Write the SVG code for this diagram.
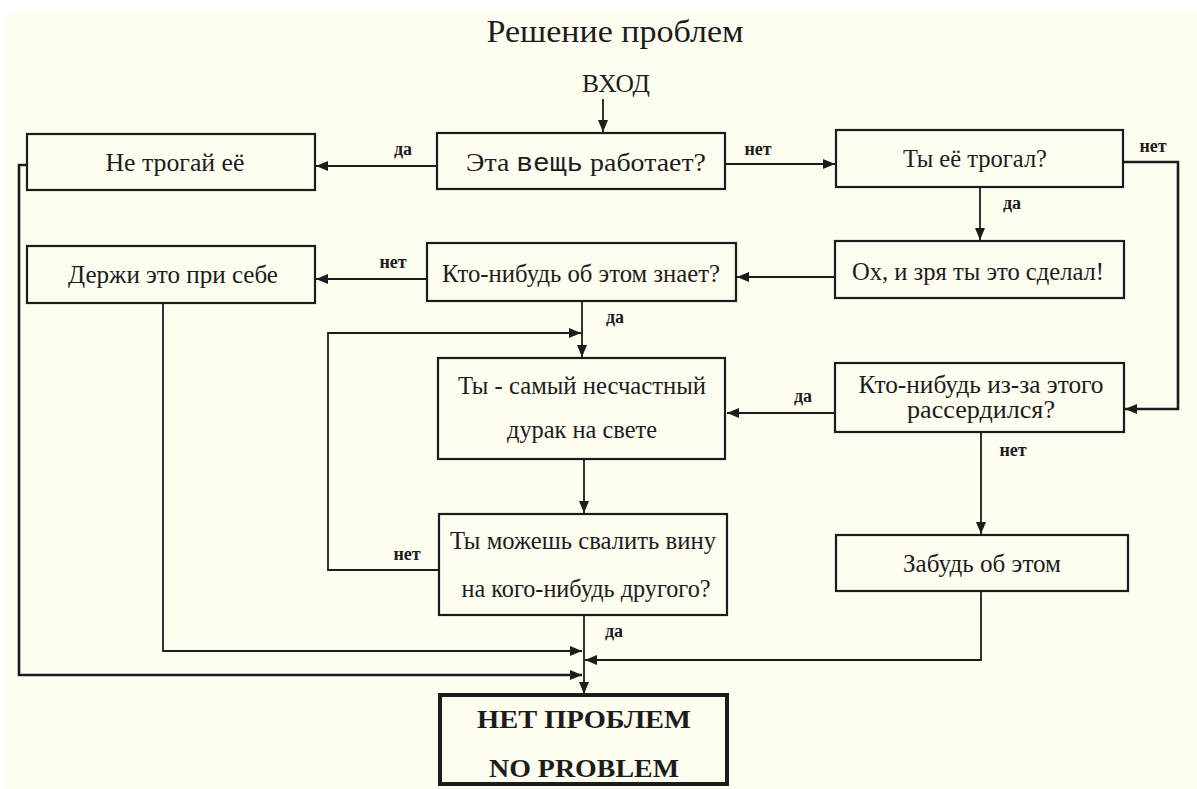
<svg xmlns="http://www.w3.org/2000/svg" width="1197" height="789" viewBox="0 0 1197 789">
<defs>
<style>
.bg{fill:#fdfdf0}
.box{fill:#fdfdf0;stroke:#1c1c1c;stroke-width:2.2}
.t{font-family:'Liberation Serif','DejaVu Serif',serif;font-size:25px;fill:#1c1c1c;text-anchor:middle}
.lbl{font-family:'Liberation Serif','DejaVu Serif',serif;font-size:18px;font-weight:bold;fill:#1c1c1c;text-anchor:middle}
.c{fill:none;stroke:#1c1c1c;stroke-width:1.8}
.ca{fill:none;stroke:#1c1c1c;stroke-width:1.8;marker-end:url(#arr)}
.mono{font-family:'Liberation Mono','DejaVu Sans Mono',monospace}
</style>
<marker id="arr" markerUnits="userSpaceOnUse" markerWidth="13" markerHeight="11" refX="12" refY="5" orient="auto">
<path d="M0,0 L12,5 L0,10 z" fill="#1c1c1c"/>
</marker>
</defs>
<rect width="1197" height="789" fill="#ffffff"/>
<rect class="bg" x="7" y="12" width="1190" height="777"/>

<text id="title" class="t" x="615" y="42" textLength="257" lengthAdjust="spacingAndGlyphs" style="font-size:31px">Решение проблем</text>
<text id="entry" class="t" x="616" y="92" textLength="68" lengthAdjust="spacingAndGlyphs">ВХОД</text>

<g id="connectors">
<path class="ca" d="M603,99 V132"/>
<path class="ca" d="M437,166 H316"/>
<text class="lbl" x="403" y="155">да</text>
<path class="ca" d="M725,164 H835"/>
<text class="lbl" x="758" y="155">нет</text>
<path class="ca" d="M1123,162 H1178 V409 H1125" style="stroke-width:2.6"/>
<text class="lbl" x="1153" y="152">нет</text>
<path class="ca" d="M980,187 V240"/>
<text class="lbl" x="1012" y="209">да</text>
<path class="ca" d="M835,277 H737"/>
<path class="ca" d="M427,279 H316"/>
<text class="lbl" x="393" y="268">нет</text>
<path class="ca" d="M582,301 V357"/>
<text class="lbl" x="615" y="323">да</text>
<path class="ca" d="M439,570 H328 V333 H581"/>
<text class="lbl" x="407" y="560">нет</text>
<path class="ca" d="M584,459 V513"/>
<path class="ca" d="M835,413 H727"/>
<text class="lbl" x="803" y="402">да</text>
<path class="ca" d="M981,432 V534"/>
<text class="lbl" x="1013" y="456">нет</text>
<path class="ca" d="M981,591 V660 H585"/>
<path class="ca" d="M584,615 V694"/>
<text class="lbl" x="614" y="637">да</text>
<path class="ca" d="M163,303 V651 H582"/>
<path class="ca" d="M27,165 H19 V675 H582" style="stroke-width:2.6"/>
</g>

<g id="n1"><rect class="box" x="27" y="134" width="288" height="56"/><text class="t" x="175" y="171" textLength="139" lengthAdjust="spacingAndGlyphs">Не трогай её</text></g>
<g id="n2"><rect class="box" x="437" y="133" width="288" height="56"/><text class="t" x="586" y="171" textLength="240" lengthAdjust="spacingAndGlyphs">Эта <tspan class="mono">вещь</tspan> работает?</text></g>
<g id="n3"><rect class="box" x="836" y="130" width="287" height="57"/><text class="t" x="975" y="167" textLength="144" lengthAdjust="spacingAndGlyphs">Ты её трогал?</text></g>
<g id="n4"><rect class="box" x="27" y="246" width="288" height="57"/><text class="t" x="173" y="283" textLength="210" lengthAdjust="spacingAndGlyphs">Держи это при себе</text></g>
<g id="n5"><rect class="box" x="427" y="243" width="309" height="58"/><text class="t" x="581" y="282" textLength="278" lengthAdjust="spacingAndGlyphs">Кто-нибудь об этом знает?</text></g>
<g id="n6"><rect class="box" x="835" y="241" width="289" height="57"/><text class="t" x="978" y="280" textLength="252" lengthAdjust="spacingAndGlyphs">Ох, и зря ты это сделал!</text></g>
<g id="n7"><rect class="box" x="438" y="358" width="287" height="101"/><text class="t" x="582" y="394" textLength="248" lengthAdjust="spacingAndGlyphs">Ты - самый несчастный</text><text class="t" x="582" y="438" textLength="150" lengthAdjust="spacingAndGlyphs">дурак на свете</text></g>
<g id="n8"><rect class="box" x="835" y="363" width="289" height="69"/><text class="t" x="981" y="393" textLength="245" lengthAdjust="spacingAndGlyphs">Кто-нибудь из-за этого</text><text class="t" x="981" y="418" textLength="148" lengthAdjust="spacingAndGlyphs">рассердился?</text></g>
<g id="n9"><rect class="box" x="439" y="514" width="288" height="101"/><text class="t" x="583" y="549" textLength="266" lengthAdjust="spacingAndGlyphs">Ты можешь свалить вину</text><text class="t" x="586" y="597" textLength="249" lengthAdjust="spacingAndGlyphs">на кого-нибудь другого?</text></g>
<g id="n10"><rect class="box" x="836" y="535" width="292" height="56"/><text class="t" x="982" y="572" textLength="158" lengthAdjust="spacingAndGlyphs">Забудь об этом</text></g>
<g id="n11"><rect class="box" x="440" y="695" width="287" height="89" style="stroke-width:4"/><text class="t" x="584" y="728" textLength="214" lengthAdjust="spacingAndGlyphs" style="font-weight:bold">НЕТ ПРОБЛЕМ</text><text class="t" x="584" y="777" textLength="190" lengthAdjust="spacingAndGlyphs" style="font-weight:bold">NO PROBLEM</text></g>
</svg>
